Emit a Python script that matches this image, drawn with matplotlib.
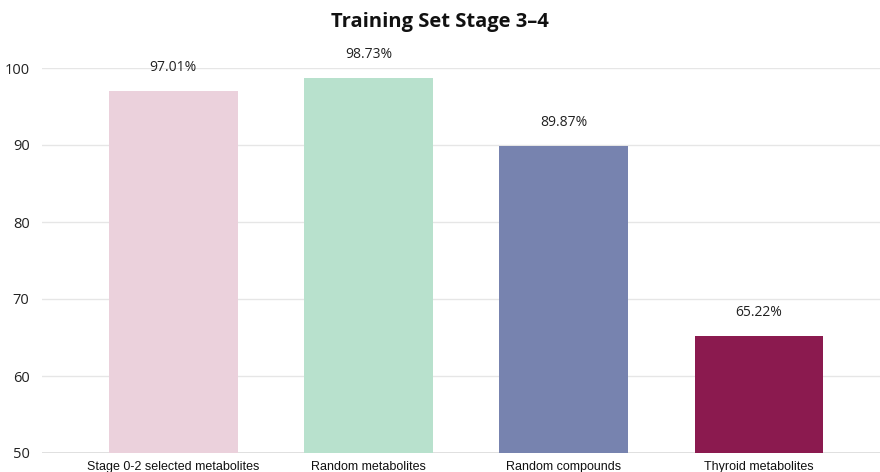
import matplotlib
matplotlib.use("Agg")
import matplotlib.pyplot as plt

categories = ["Stage 0-2 selected metabolites", "Random metabolites", "Random compounds", "Thyroid metabolites"]
accuracy = [97.01, 98.73, 89.87, 65.22]
bar_colors = ["#EBD1DC", "#B8E1CD", "#7783AF", "#8B1A4F"]
y_ticks = [50, 60, 70, 80, 90, 100]

plt.rcParams["font.family"] = ["Open Sans", "DejaVu Sans"]

fig = plt.figure(figsize=(8.8, 4.72), dpi=100)
ax = fig.add_axes([42 / 880, 1 - 453 / 472, 1 - 42 / 880, (453 - 68) / 472])

x = list(range(len(categories)))
ax.bar(x, accuracy, width=0.66, color=bar_colors, zorder=2)

for xi, v in zip(x, accuracy):
    ax.annotate(f"{v:.2f}%", (xi, v), xytext=(0, 17), textcoords="offset points",
                ha="center", va="center", fontsize=10, color="#222222", clip_on=False)

ax.set_ylim(50, 100)
ax.set_xlim(-0.672, 3.62)
ax.set_yticks(y_ticks)
ax.set_yticklabels([str(t) for t in y_ticks], fontsize=10.5, color="#222222")
ax.set_xticks(x)
ax.set_xticklabels(categories, fontsize=9, color="#111111", family=["Liberation Sans Narrow", "Liberation Sans", "DejaVu Sans"])
ax.tick_params(axis="both", length=0)
ax.tick_params(axis="y", pad=9)
ax.tick_params(axis="x", pad=6)
ax.grid(axis="y", color="#E6E6E6", linewidth=1.0, zorder=0)
for s in ax.spines.values():
    s.set_visible(False)
ax.axhline(50, color="#D9D9D9", linewidth=1.2, zorder=1)

fig.text(0.5, 1 - 22 / 472, "Training Set Stage 3\u20134", ha="center", va="center",
         fontsize=14.5, fontweight="bold", color="#111111")

fig.savefig("out.png", dpi=100)
